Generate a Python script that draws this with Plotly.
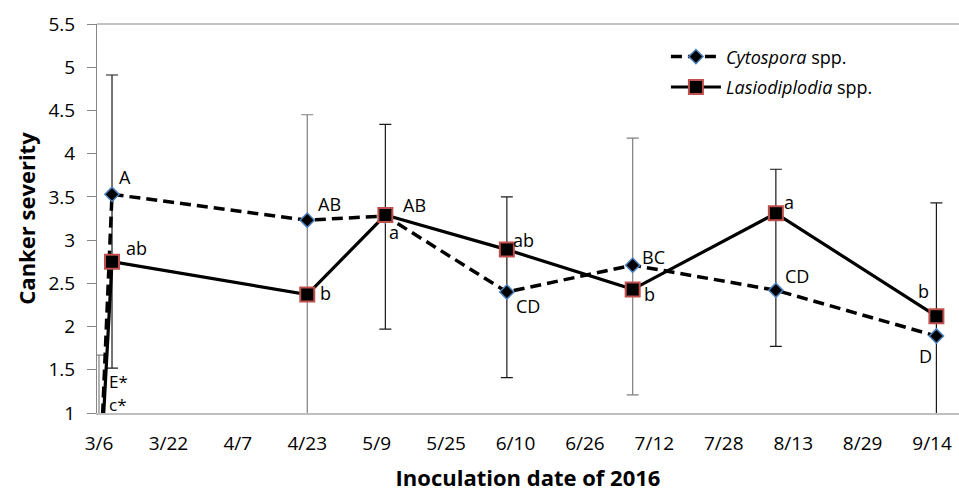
import plotly.graph_objects as go

# ---------------- data ----------------
dates = ["2016-03-06", "2016-03-09", "2016-04-23", "2016-05-11",
         "2016-06-08", "2016-07-07", "2016-08-09", "2016-09-15"]
cytospora = [0.0, 3.53, 3.23, 3.28, 2.40, 2.71, 2.42, 1.89]
lasiodiplodia = [0.0, 2.75, 2.37, 3.29, 2.89, 2.43, 3.31, 2.12]
cyto_letters = ["E*", "A", "AB", "AB", "CD", "BC", "CD", "D"]
lasio_letters = ["c*", "ab", "b", "a", "ab", "b", "a", "b"]

# error bars (top / bottom of each whisker)
err_dates_dark = ["2016-03-09", "2016-05-11", "2016-06-08", "2016-08-09", "2016-09-15"]
err_top_dark = [4.91, 4.34, 3.50, 3.82, 3.43]
err_bot_dark = [1.52, 1.97, 1.41, 1.77, 0.50]
err_dates_grey = ["2016-03-06", "2016-04-23", "2016-07-07"]
err_top_grey = [1.67, 4.45, 4.18]
err_bot_grey = [-1.67, 0.30, 1.21]

tick_vals = ["2016-03-06", "2016-03-22", "2016-04-07", "2016-04-23", "2016-05-09",
             "2016-05-25", "2016-06-10", "2016-06-26", "2016-07-12", "2016-07-28",
             "2016-08-13", "2016-08-29", "2016-09-14"]
tick_text = ["3/6", "3/22", "4/7", "4/23", "5/9", "5/25", "6/10", "6/26",
             "7/12", "7/28", "8/13", "8/29", "9/14"]

# ---------------- style ----------------
Y_MIN, Y_MAX = 1, 5.5
FONT = "Open Sans"
# label offsets in px (dx, dy up) relative to the (clamped) point
cyto_off = [(20, 32), (13, 17), (22, 16), (29, 11), (21, -14), (21, 8), (21, 14), (-11, -20)]
lasio_off = [(19, 9), (24, 14), (18, 2), (9, -17), (17, 10), (17, -5), (13, 11), (-13, 25)]
label_size = [17, 18, 18, 18, 18, 18, 18, 18]

fig = go.Figure()


def err_trace(xs, tops, bots, color):
    mids = [(t + b) / 2 for t, b in zip(tops, bots)]
    half = [(t - b) / 2 for t, b in zip(tops, bots)]
    return go.Scatter(
        x=xs, y=mids, mode="markers", marker=dict(size=1, opacity=0),
        error_y=dict(type="data", array=half, visible=True, color=color,
                     thickness=1.2, width=6),
        showlegend=False, hoverinfo="skip")


fig.add_trace(err_trace(err_dates_grey, err_top_grey, err_bot_grey, "#7f7f7f"))
fig.add_trace(err_trace(err_dates_dark, err_top_dark, err_bot_dark, "#1a1a1a"))

fig.add_trace(go.Scatter(
    x=dates, y=cytospora, mode="lines+markers",
    name="<i>Cytospora</i> spp.", legendgroup="c",
    line=dict(color="black", width=3.5, dash="11px,6px"),
    marker=dict(symbol="diamond", size=11, color="black",
                line=dict(color="#4f81bd", width=1.5)),
))
fig.add_trace(go.Scatter(
    x=dates, y=lasiodiplodia, mode="lines+markers",
    name="<i>Lasiodiplodia</i> spp.", legendgroup="l",
    line=dict(color="black", width=3.2),
    marker=dict(symbol="square", size=14, color="black",
                line=dict(color="#c0504d", width=2)),
))

annotations = []
for vals, letters, offs in ((cytospora, cyto_letters, cyto_off),
                            (lasiodiplodia, lasio_letters, lasio_off)):
    for d, v, t, (dx, dy), fs in zip(dates, vals, letters, offs, label_size):
        annotations.append(dict(
            x=d, y=max(v, Y_MIN), xref="x", yref="y", text=t, showarrow=False,
            xshift=dx, yshift=dy, font=dict(family=FONT, size=fs, color="black"),
            borderpad=0,
        ))

fig.update_layout(
    width=959, height=493,
    margin=dict(l=97, r=0, t=24, b=80),
    paper_bgcolor="white", plot_bgcolor="white",
    font=dict(family=FONT, size=19, color="black"),
    annotations=annotations,
    legend=dict(x=0.66, y=0.963, xanchor="left", yanchor="top",
                bgcolor="rgba(0,0,0,0)", font=dict(family=FONT, size=18),
                tracegroupgap=4, itemwidth=50),
    shapes=[dict(type="line", xref="paper", yref="paper", x0=0, x1=1, y0=1, y1=1,
                 line=dict(color="#868686", width=1.2))],
)
fig.update_xaxes(
    type="date", range=["2016-03-05 13:00", "2016-09-20 05:00"],
    tickmode="array", tickvals=tick_vals, ticktext=tick_text,
    showgrid=False, zeroline=False, showline=True, linecolor="#bfbfbf", linewidth=1.5,
    ticks="", tickfont=dict(family=FONT, size=19),
    ticklabelstandoff=12,
    title=dict(text="<b>Inoculation date of 2016</b>", font=dict(family=FONT, size=22),
               standoff=16),
)
fig.update_yaxes(
    range=[Y_MIN, Y_MAX], dtick=0.5, tick0=1,
    showgrid=False, zeroline=False, showline=True, linecolor="#868686", linewidth=1.2,
    ticks="outside", ticklen=9, tickcolor="#868686", tickwidth=1.2,
    tickfont=dict(family=FONT, size=19), ticklabelstandoff=8,
    title=dict(text="<b>Canker severity</b>", font=dict(family=FONT, size=22),
               standoff=6),
)

fig.write_html("out.html")
